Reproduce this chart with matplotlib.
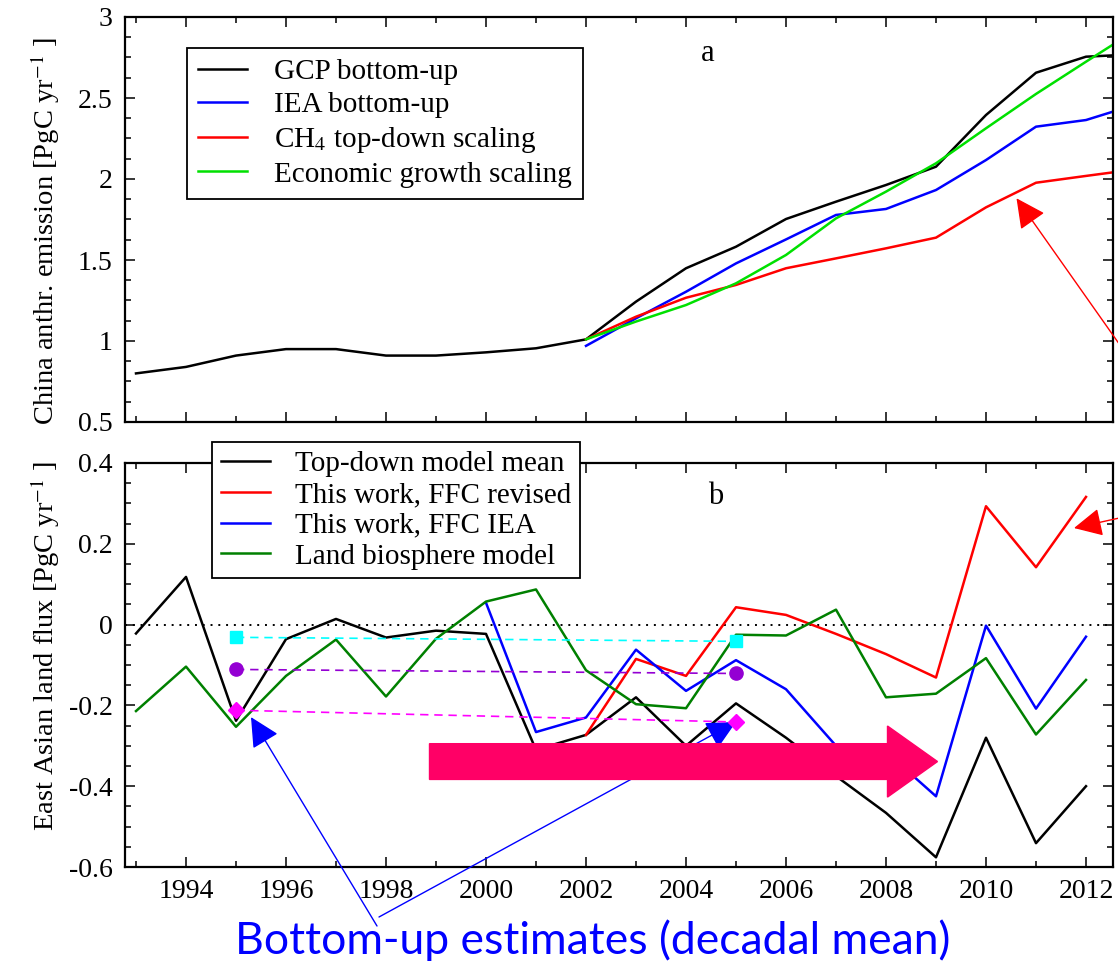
import matplotlib
matplotlib.use('Agg')
from matplotlib import pyplot as plt
from matplotlib.patches import FancyArrow
from matplotlib.ticker import MultipleLocator, FuncFormatter

plt.rcParams['font.family'] = 'Liberation Serif'
plt.rcParams['mathtext.fontset'] = 'stix'
plt.rcParams['axes.unicode_minus'] = False

# panel a: China anthropogenic emission [PgC/yr]
years_gcp = list(range(1993, 2014))
gcp = [0.80, 0.84, 0.91, 0.95, 0.95, 0.91, 0.91, 0.93, 0.955, 1.01, 1.243,
       1.449, 1.582, 1.753, 1.86, 1.963, 2.076, 2.395, 2.656, 2.755, 2.77]
years_scaled = list(range(2002, 2014))
iea = [0.97, 1.14, 1.304, 1.479, 1.627, 1.778, 1.815, 1.932, 2.117, 2.323, 2.364, 2.46]
ch4 = [1.01, 1.15, 1.267, 1.346, 1.449, 1.51, 1.572, 1.638, 1.825, 1.977, 2.019, 2.06]
econ = [1.01, 1.12, 1.222, 1.356, 1.531, 1.757, 1.922, 2.097, 2.313, 2.525, 2.724, 2.92]

# panel b: East Asian land flux [PgC/yr]
years_b = list(range(1993, 2013))
top_down = [-0.022, 0.118, -0.238, -0.036, 0.014, -0.032, -0.015, -0.023, -0.31, -0.273,
            -0.18, -0.30, -0.195, -0.28, -0.375, -0.466, -0.576, -0.28, -0.541, -0.40]
biosphere = [-0.214, -0.104, -0.253, -0.127, -0.037, -0.178, -0.035, 0.057, 0.087, -0.113,
             -0.197, -0.207, -0.025, -0.027, 0.037, -0.18, -0.171, -0.083, -0.272, -0.137]
years_iea_flux = list(range(2000, 2013))
ffc_iea = [0.054, -0.266, -0.230, -0.062, -0.164, -0.088, -0.16, -0.30, -0.315, -0.425,
           -0.0025, -0.208, -0.030]
years_revised = list(range(2002, 2013))
ffc_revised = [-0.273, -0.085, -0.127, 0.043, 0.024, -0.023, -0.073, -0.131, 0.293, 0.142, 0.316]

# bottom-up decadal means (1995 and 2005)
decades = [1995, 2005]
decadal_cyan = [-0.0315, -0.0414]
decadal_purple = [-0.111, -0.121]
decadal_magenta = [-0.212, -0.241]

W, H = 1118, 961
fig = plt.figure(figsize=(W / 100, H / 100), dpi=100)
ax_a = fig.add_axes([125 / W, 1 - 422 / H, 988 / W, 405 / H])
ax_b = fig.add_axes([125 / W, 1 - 867 / H, 988 / W, 404 / H])

lw = 1.8
fmt = FuncFormatter(lambda v, p: '%g' % round(v, 4))

for ax in (ax_a, ax_b):
    ax.set_xlim(1992.78, 2012.54)
    ax.xaxis.set_major_locator(MultipleLocator(2))
    ax.xaxis.set_minor_locator(MultipleLocator(1))
    ax.yaxis.set_major_formatter(fmt)
    ax.tick_params(which='both', direction='in', top=True, right=True,
                   labelsize=20, width=1.1)
    ax.tick_params(which='major', length=7, pad=9)
    ax.tick_params(which='minor', length=4)
    for s in ax.spines.values():
        s.set_linewidth(1.6)

# ---- panel a
ax_a.plot(years_gcp, gcp, color='black', lw=lw, label='GCP bottom-up')
ax_a.plot(years_scaled, iea, color='#0000FF', lw=lw, label='IEA bottom-up')
ax_a.plot(years_scaled, ch4, color='#FF0000', lw=lw, label='CH$_4$ top-down scaling')
ax_a.plot(years_scaled, econ, color='#00E000', lw=lw, label='Economic growth scaling')
ax_a.set_ylim(0.5, 3)
ax_a.yaxis.set_major_locator(MultipleLocator(0.5))
ax_a.yaxis.set_minor_locator(MultipleLocator(0.125))
ax_a.tick_params(labelbottom=False)
ax_a.set_ylabel('China anthr. emission [PgC yr$^{-1}$ ]', fontsize=20.5)
ax_a.yaxis.set_label_coords(-0.064, 0.47)
ax_a.text(0.59, 0.911, 'a', transform=ax_a.transAxes, ha='center', va='center', fontsize=22)
leg = ax_a.legend(loc='upper left', bbox_to_anchor=(0.0628, 0.9235), borderaxespad=0,
                  fancybox=False, edgecolor='black', framealpha=1, fontsize=21,
                  handlelength=1.68, handletextpad=0.92, labelspacing=0.22, borderpad=0.38)
leg.get_frame().set_linewidth(1.3)

ax_a.annotate('', xy=(2010.61, 1.881), xytext=(1158, 562), textcoords='figure pixels',
              arrowprops=dict(arrowstyle='-|>', color='#FF0000', lw=1,
                              mutation_scale=46, shrinkA=0, shrinkB=0))

# ---- panel b
ax_b.axhline(0, color='black', lw=1.4, ls=(0, (1, 3)))
ax_b.plot(years_b, top_down, color='black', lw=lw, label='Top-down model mean')
ax_b.plot(years_revised, ffc_revised, color='#FF0000', lw=lw, label='This work, FFC revised')
ax_b.plot(years_iea_flux, ffc_iea, color='#0000FF', lw=lw, label='This work, FFC IEA')
ax_b.plot(years_b, biosphere, color='#008000', lw=lw, label='Land biosphere model')

ax_b.plot(decades, decadal_cyan, color='#00FFFF', lw=1.2, dashes=(5, 3.5),
          marker='s', ms=8, zorder=4)
ax_b.plot(decades, decadal_purple, color='#9400D3', lw=1.2, dashes=(5, 3.5),
          marker='o', ms=9.5, zorder=4)
ax_b.plot(decades, decadal_magenta, color='#FF00FF', lw=1.2, dashes=(5, 3.5),
          marker='D', ms=8.5, zorder=4)

ax_b.set_ylim(-0.6, 0.4)
ax_b.yaxis.set_major_locator(MultipleLocator(0.2))
ax_b.yaxis.set_minor_locator(MultipleLocator(0.05))
ax_b.set_ylabel('East Asian land flux [PgC yr$^{-1}$ ]', fontsize=20.5)
ax_b.yaxis.set_label_coords(-0.064, 0.548)
ax_b.text(0.598, 0.916, 'b', transform=ax_b.transAxes, ha='center', va='center', fontsize=22)
leg_b = ax_b.legend(loc='upper left', bbox_to_anchor=(0.088, 1.052), borderaxespad=0,
                    fancybox=False, edgecolor='black', framealpha=1, fontsize=21,
                    handlelength=1.68, handletextpad=0.86, labelspacing=0.15, borderpad=0.3)
leg_b.get_frame().set_linewidth(1.3)

ax_b.annotate('', xy=(2011.76, 0.239), xytext=(1160, 452), textcoords='figure pixels',
              arrowprops=dict(arrowstyle='-|>', color='#FF0000', lw=1,
                              mutation_scale=44, shrinkA=0, shrinkB=0))
ax_b.annotate('', xy=(1995.3, -0.229), xytext=(377, 35), textcoords='figure pixels',
              arrowprops=dict(arrowstyle='-|>', color='#0000FF', lw=1,
                              mutation_scale=46, shrinkA=0, shrinkB=0))
ax_b.annotate('', xy=(2005.0, -0.241), xytext=(379, 44), textcoords='figure pixels',
              arrowprops=dict(arrowstyle='-|>', color='#0000FF', lw=1,
                              mutation_scale=46, shrinkA=0, shrinkB=0))

# big trend arrow
ax_b.add_patch(FancyArrow(1998.87, -0.339, 10.16, 0, width=0.0885, head_width=0.176,
                          head_length=1.0, length_includes_head=True,
                          color='#FF0066', zorder=6))

fig.text(593 / W, 1 - 941 / H, 'Bottom-up estimates (decadal mean)', ha='center',
         va='center', color='#0000FF', fontsize=32, family='Lato')

fig.savefig('out.png', dpi=100)
